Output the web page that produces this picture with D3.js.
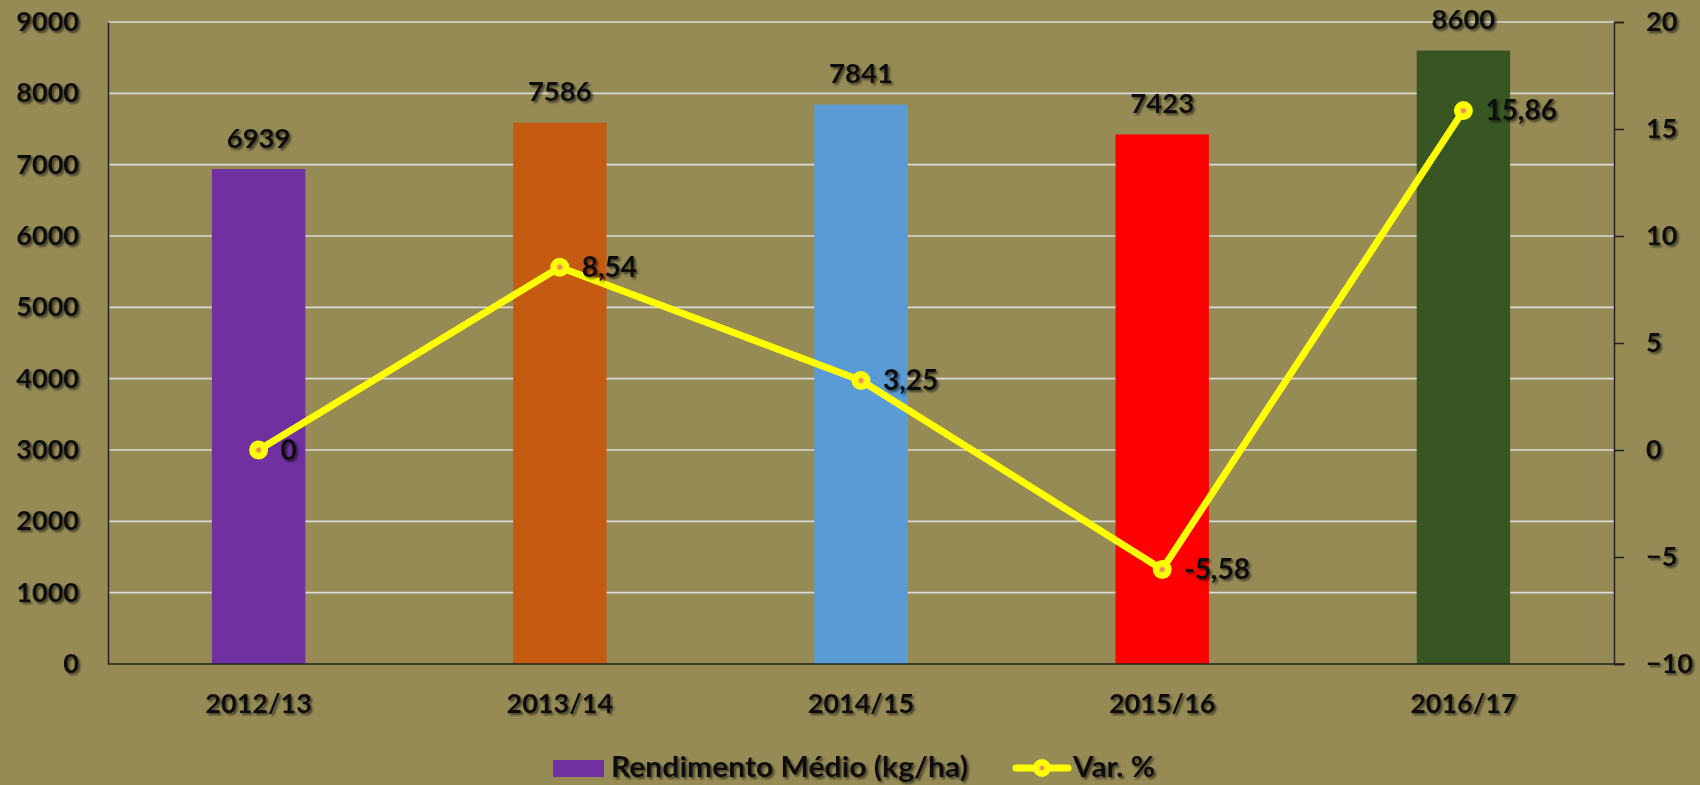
<!DOCTYPE html>
<html><head><meta charset="utf-8">
<script src="https://cdn.jsdelivr.net/npm/d3@7"></script>
<style>
html,body{margin:0;padding:0;background:#968b55;}
svg{display:block;}
text{font-family:Lato,"Open Sans",sans-serif;font-weight:bold;fill:#111;}
</style></head>
<body>
<svg id="c" width="1700" height="785"></svg>
<script>
const categories = ["2012/13","2013/14","2014/15","2015/16","2016/17"];
const rendimento = [6939,7586,7841,7423,8600];
const variacao = [0,8.54,3.25,-5.58,15.86];
const variacaoLabels = ["0","8,54","3,25","-5,58","15,86"];
const barColors = ["#7030a0","#c55a11","#5b9bd5","#ff0000","#375623"];
const leftTicks = [0,1000,2000,3000,4000,5000,6000,7000,8000,9000];
const rightTicks = [-10,-5,0,5,10,15,20];
const seriesNames = ["Rendimento Médio (kg/ha)","Var. %"];

const svg = d3.select("#c");
const defs = svg.append("defs");
const f = defs.append("filter").attr("id","sh").attr("x","-20%").attr("y","-20%").attr("width","140%").attr("height","160%");
f.append("feDropShadow").attr("dx",2).attr("dy",2).attr("stdDeviation",1.3).attr("flood-color","#000").attr("flood-opacity",0.55);

const L=108,R=1614,T=22,B=664;
const x = d3.scaleBand().domain(categories).range([L,R]).paddingInner(0).paddingOuter(0);
const yL = d3.scaleLinear().domain([0,9000]).range([B,T]);
const yR = d3.scaleLinear().domain([-10,20]).range([B,T]);
const bw = x.bandwidth()*0.31;

// gridlines
svg.append("g").selectAll("line").data(leftTicks.filter(d=>d>0)).join("line")
  .attr("x1",L).attr("x2",R).attr("y1",d=>yL(d)).attr("y2",d=>yL(d))
  .attr("stroke","#d9d9d9").attr("stroke-width",1.6);

// bars
svg.append("g").selectAll("rect").data(rendimento).join("rect")
  .attr("x",(d,i)=>x(categories[i])+x.bandwidth()/2-bw/2)
  .attr("width",bw)
  .attr("y",d=>yL(d)).attr("height",d=>B-yL(d))
  .attr("fill",(d,i)=>barColors[i]);

// axes
const gl = svg.append("g").attr("transform",`translate(${L},0)`)
  .call(d3.axisLeft(yL).tickValues(leftTicks).tickSize(0).tickPadding(29).tickFormat(d3.format("d")));
gl.select(".domain").attr("stroke","#222").attr("stroke-width",1.5);
gl.selectAll("text").attr("font-size",27).attr("filter","url(#sh)").attr("fill","#111");

const gr = svg.append("g").attr("transform",`translate(${R},0)`)
  .call(d3.axisRight(yR).tickValues(rightTicks).tickSize(10).tickPadding(22).tickSizeOuter(10));
gr.select(".domain").attr("stroke","#222").attr("stroke-width",1.5);
gr.selectAll(".tick line").attr("stroke","#222").attr("stroke-width",1.5);
gr.selectAll("text").attr("font-size",27).attr("filter","url(#sh)").attr("fill","#111");

const gb = svg.append("g").attr("transform",`translate(0,${B})`)
  .call(d3.axisBottom(x).tickSize(0).tickPadding(30));
gb.select(".domain").attr("d",`M${L},0H${R+11}`).attr("stroke","#222").attr("stroke-width",1.5);
gb.selectAll("text").attr("font-size",27).attr("filter","url(#sh)").attr("fill","#111");

// bar labels
svg.append("g").selectAll("text").data(rendimento).join("text")
  .attr("x",(d,i)=>x(categories[i])+x.bandwidth()/2)
  .attr("y",d=>yL(d)-31).attr("dy","0.35em")
  .attr("text-anchor","middle").attr("font-size",27.5).attr("filter","url(#sh)")
  .text(d=>d);

// line
const cx = i=>x(categories[i])+x.bandwidth()/2;
const line = d3.line().x((d,i)=>cx(i)).y(d=>yR(d));
svg.append("path").datum(variacao).attr("d",line).attr("fill","none")
  .attr("stroke","#ffff00").attr("stroke-width",7).attr("stroke-linejoin","round");
svg.append("g").selectAll("circle").data(variacao).join("circle")
  .attr("cx",(d,i)=>cx(i)).attr("cy",d=>yR(d)).attr("r",6.5)
  .attr("fill","#f2d23a").attr("stroke","#ffff00").attr("stroke-width",6);
svg.append("g").selectAll("circle").data(variacao).join("circle")
  .attr("cx",(d,i)=>cx(i)).attr("cy",d=>yR(d)).attr("r",2.2)
  .attr("fill","#f08a4b");
svg.append("g").selectAll("text").data(variacao).join("text")
  .attr("x",(d,i)=>cx(i)+22).attr("y",d=>yR(d)).attr("dy","0.35em")
  .attr("font-size",28).attr("filter","url(#sh)")
  .text((d,i)=>variacaoLabels[i]);

// legend
const lg = svg.append("g");
lg.append("rect").attr("x",553).attr("y",760).attr("width",51).attr("height",17).attr("fill",barColors[0]);
lg.append("text").attr("x",611).attr("y",767).attr("dy","0.35em").attr("font-size",28)
  .attr("textLength",357).attr("lengthAdjust","spacingAndGlyphs").attr("filter","url(#sh)").text(seriesNames[0]);
lg.append("line").attr("x1",1016).attr("x2",1068).attr("y1",768).attr("y2",768)
  .attr("stroke","#ffff00").attr("stroke-width",7).attr("stroke-linecap","round");
lg.append("circle").attr("cx",1042).attr("cy",768).attr("r",6).attr("fill","#f2d23a").attr("stroke","#ffff00").attr("stroke-width",6);
lg.append("circle").attr("cx",1042).attr("cy",768).attr("r",2).attr("fill","#f08a4b");
lg.append("text").attr("x",1073).attr("y",767).attr("dy","0.35em").attr("font-size",28)
  .attr("textLength",82).attr("lengthAdjust","spacingAndGlyphs").attr("filter","url(#sh)").text(seriesNames[1]);
</script>
</body></html>
